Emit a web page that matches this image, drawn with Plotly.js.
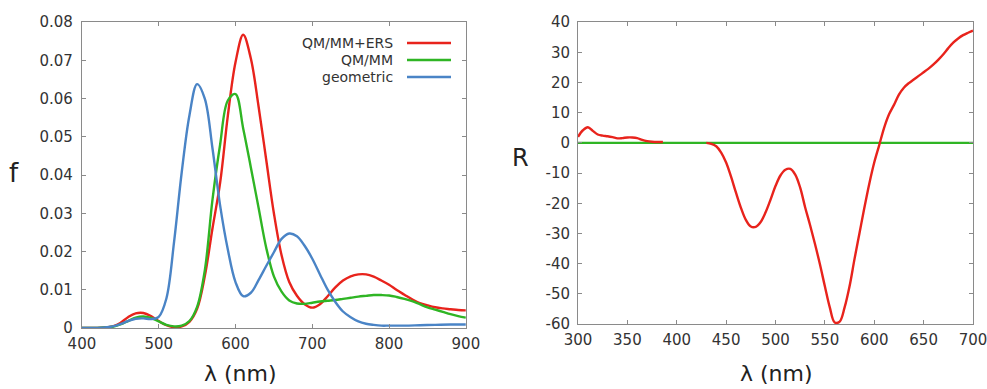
<!DOCTYPE html>
<html><head><meta charset="utf-8">
<script src="https://cdn.plot.ly/plotly-3.0.1.min.js"></script>
<style>html,body{margin:0;padding:0;background:#fff}#chart{width:987px;height:389px}</style>
</head><body><div id="chart"></div>
<script>
// Left panel: oscillator strength f vs wavelength (nm)
const ersX = [400,410,420,430,440,450,460,470,480,490,500,510,520,530,540,550,560,570,580,590,600,610,620,630,640,650,660,670,680,690,700,710,720,730,740,750,760,770,780,790,800,810,820,830,840,850,860,870,880,890,900];
const ersY = [0,0,0,0.0001,0.0004,0.0013,0.0028,0.0038,0.0039,0.0031,0.0018,0.0007,0.0002,0.0004,0.0016,0.005,0.0135,0.026,0.038,0.0555,0.0695,0.0767,0.0705,0.058,0.044,0.030,0.019,0.012,0.0084,0.0062,0.0053,0.0062,0.0083,0.0106,0.0124,0.0135,0.014,0.014,0.0134,0.0124,0.0113,0.0099,0.0087,0.0075,0.0065,0.0059,0.0054,0.0051,0.0049,0.0047,0.0046];
const qmX = [400,410,420,430,440,450,460,470,480,490,500,510,520,530,540,550,560,570,580,590,600,610,620,630,640,650,660,670,680,690,700,710,720,730,740,750,760,770,780,790,800,810,820,830,840,850,860,870,880,890,900];
const qmY = [0,0,0,0.0001,0.0003,0.0009,0.0018,0.0027,0.003,0.0026,0.0017,0.0008,0.0004,0.0006,0.0018,0.0055,0.015,0.0335,0.048,0.0595,0.0612,0.0522,0.042,0.0315,0.021,0.0135,0.0095,0.0072,0.0064,0.0063,0.0066,0.0069,0.0071,0.0073,0.0076,0.0079,0.0082,0.0084,0.0086,0.0086,0.0085,0.0081,0.0076,0.007,0.0062,0.0054,0.0048,0.0042,0.0036,0.0031,0.0027];
const geoX = [400,410,420,430,440,450,460,470,480,490,500,510,520,530,540,550,560,570,580,590,600,610,620,630,640,650,660,670,680,690,700,710,720,730,740,750,760,770,780,790,800,820,840,860,880,900];
const geoY = [0,0,0,0.0001,0.0004,0.001,0.0018,0.0024,0.0025,0.0023,0.0029,0.0077,0.0225,0.0408,0.0556,0.0638,0.06,0.047,0.032,0.0205,0.012,0.0083,0.0092,0.0125,0.0162,0.0198,0.0233,0.0247,0.024,0.0215,0.0181,0.014,0.01,0.0068,0.0043,0.0028,0.0017,0.0011,0.0008,0.0006,0.0006,0.0006,0.0007,0.0008,0.0009,0.0009];
const leftXTicks = [400,500,600,700,800,900];
const leftYTicks = [0,0.01,0.02,0.03,0.04,0.05,0.06,0.07,0.08];
const leftYTickText = ["0","0.01","0.02","0.03","0.04","0.05","0.06","0.07","0.08"];
const legendNames = ["QM/MM+ERS","QM/MM","geometric"];

// Right panel: rotatory strength R vs wavelength (nm)
const rX = [300,305,310,315,320,325,330,335,340,345,350,355,360,365,370,375,380,386,null,430,435,440,445,450,455,460,465,470,475,480,485,490,495,500,505,510,515,520,525,530,535,540,545,550,555,560,565,570,575,580,585,590,595,600,605,610,615,620,625,630,635,640,645,650,655,660,665,670,675,680,685,690,695,700];
const rY = [2.0,4.2,5.2,4.0,2.8,2.4,2.2,1.9,1.5,1.6,1.8,1.8,1.6,1.0,0.6,0.4,0.3,0.3,null,0,-0.3,-1.1,-3.2,-6.5,-11.2,-16.5,-21.5,-25.5,-27.7,-27.8,-26.2,-23,-18.8,-14.3,-10.8,-8.9,-8.6,-10.5,-14.8,-21.3,-27.2,-33.5,-40.2,-47.5,-54.5,-59.5,-59.2,-54.5,-47.5,-38.5,-30,-21.5,-13.5,-6.5,-0.8,5,9.5,12.6,16.0,18.3,19.8,21,22.2,23.4,24.6,26,27.6,29.4,31.4,33.2,34.6,35.7,36.5,37.2];
const r0X = [300,700];
const r0Y = [0,0];
const rightXTicks = [300,350,400,450,500,550,600,650,700];
const rightYTicks = [-60,-50,-40,-30,-20,-10,0,10,20,30,40];
const rightYTickText = ["-60","-50","-40","-30","-20","-10","0","10","20","30","40"];

const RED = "#e8231c", GREEN = "#2fb524", BLUE = "#4a84c6";
const font = "DejaVu Sans, sans-serif";
const LW = 2.4;

const traces = [
  {x: ersX, y: ersY, xaxis:"x", yaxis:"y", mode:"lines", line:{color:RED, width:LW, shape:"spline", smoothing:1}},
  {x: qmX, y: qmY, xaxis:"x", yaxis:"y", mode:"lines", line:{color:GREEN, width:LW, shape:"spline", smoothing:1}},
  {x: geoX, y: geoY, xaxis:"x", yaxis:"y", mode:"lines", line:{color:BLUE, width:LW, shape:"spline", smoothing:1}},
  {x: r0X, y: r0Y, xaxis:"x2", yaxis:"y2", mode:"lines", line:{color:GREEN, width:LW}},
  {x: rX, y: rY, xaxis:"x2", yaxis:"y2", mode:"lines", connectgaps:false, line:{color:RED, width:LW, shape:"spline", smoothing:1}}
];

const axBase = {showgrid:false, zeroline:false, showline:true, linecolor:"#8a8a8a", linewidth:1, mirror:"ticks",
  ticks:"inside", ticklen:4, tickcolor:"#8a8a8a", tickfont:{family:font, size:15, color:"#333"}, fixedrange:true,
  ticklabeloverflow:"allow"};

const layout = {
  width:987, height:389, margin:{l:0,r:0,t:0,b:0}, showlegend:false,
  paper_bgcolor:"#fff", plot_bgcolor:"#fff",
  xaxis: Object.assign({}, axBase, {domain:[0.083,0.472], range:[400,900], tickvals:leftXTicks, anchor:"y", ticklabelstandoff:2}),
  yaxis: Object.assign({}, axBase, {domain:[0.157,0.943], range:[0,0.08], tickvals:leftYTicks, ticktext:leftYTickText, anchor:"x", ticklabelstandoff:5}),
  xaxis2: Object.assign({}, axBase, {domain:[0.5856,0.9858], range:[300,700], tickvals:rightXTicks, anchor:"y2", ticklabelstandoff:2}),
  yaxis2: Object.assign({}, axBase, {domain:[0.167,0.943], range:[-60,40], tickvals:rightYTicks, ticktext:rightYTickText, anchor:"x2", ticklabelstandoff:4}),
  annotations: [
    {text:"f", xref:"paper", yref:"paper", x:14/987, y:1-173/389, xanchor:"center", yanchor:"middle", showarrow:false, font:{family:font, size:26, color:"#222"}},
    {text:"R", xref:"paper", yref:"paper", x:520/987, y:1-158/389, xanchor:"center", yanchor:"middle", showarrow:false, font:{family:font, size:24, color:"#222"}},
    {text:"λ (nm)", xref:"paper", yref:"paper", x:240/987, y:1-373/389, xanchor:"center", yanchor:"middle", showarrow:false, font:{family:font, size:22, color:"#222"}},
    {text:"λ (nm)", xref:"paper", yref:"paper", x:776/987, y:1-373/389, xanchor:"center", yanchor:"middle", showarrow:false, font:{family:font, size:22, color:"#222"}}
  ],
  shapes: []
};
const legColors = [RED, GREEN, BLUE];
const legRows = [43, 60, 77];
legendNames.forEach((n, i) => {
  layout.annotations.push({text:n, xref:"paper", yref:"paper", x:395/987, y:1-legRows[i]/389, xanchor:"right", yanchor:"middle",
    showarrow:false, font:{family:font, size:14, color:"#333"}});
  layout.shapes.push({type:"line", xref:"paper", yref:"paper", x0:407/987, x1:451/987, y0:1-legRows[i]/389, y1:1-legRows[i]/389,
    line:{color:legColors[i], width:LW}});
});

Plotly.newPlot("chart", traces, layout, {displayModeBar:false, staticPlot:true});
</script></body></html>
